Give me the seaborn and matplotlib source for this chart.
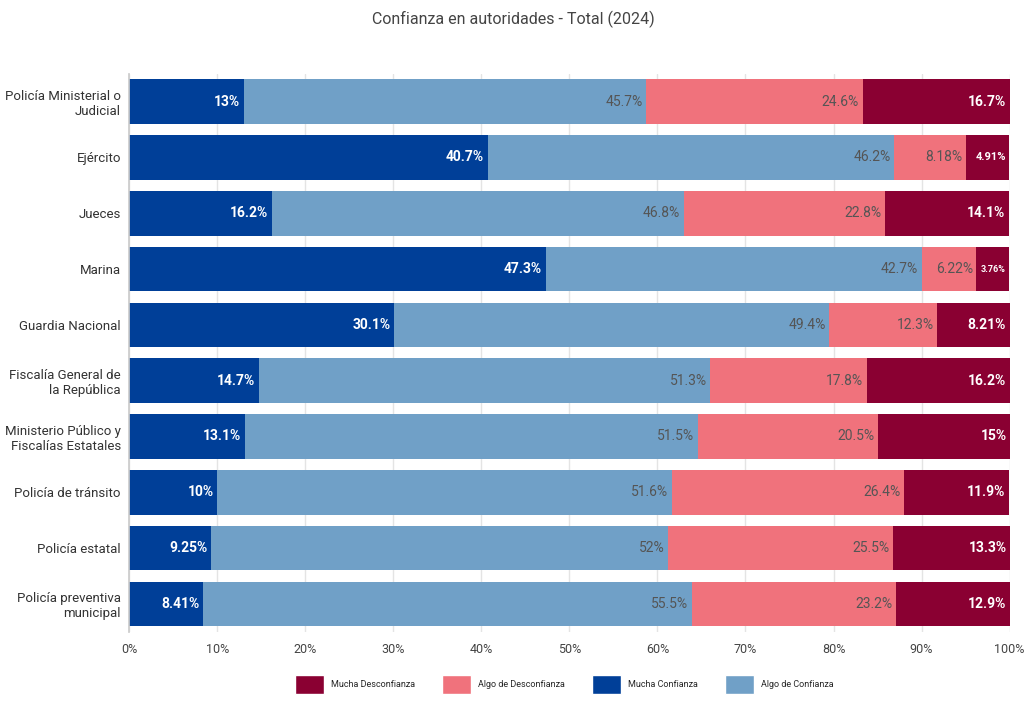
import numpy as np
import pandas as pd
import seaborn as sns
import matplotlib.pyplot as plt
from matplotlib.patches import Patch
from matplotlib.ticker import FuncFormatter

categorias = [
    'Policía Ministerial o\nJudicial',
    'Ejército',
    'Jueces',
    'Marina',
    'Guardia Nacional',
    'Fiscalía General de\nla República',
    'Ministerio Público y\nFiscalías Estatales',
    'Policía de tránsito',
    'Policía estatal',
    'Policía preventiva\nmunicipal',
]
mucha_confianza = [13, 40.7, 16.2, 47.3, 30.1, 14.7, 13.1, 10, 9.25, 8.41]
algo_confianza = [45.7, 46.2, 46.8, 42.7, 49.4, 51.3, 51.5, 51.6, 52, 55.5]
algo_desconfianza = [24.6, 8.18, 22.8, 6.22, 12.3, 17.8, 20.5, 26.4, 25.5, 23.2]
mucha_desconfianza = [16.7, 4.91, 14.1, 3.76, 8.21, 16.2, 15, 11.9, 13.3, 12.9]

series = ['Mucha Confianza', 'Algo de Confianza', 'Algo de Desconfianza', 'Mucha Desconfianza']
colores = {'Mucha Confianza': '#003f98', 'Algo de Confianza': '#70a0c7',
           'Algo de Desconfianza': '#f0727c', 'Mucha Desconfianza': '#8a0032'}
texto = {'Mucha Confianza': 'white', 'Algo de Confianza': '#555555',
         'Algo de Desconfianza': '#555555', 'Mucha Desconfianza': 'white'}

df = pd.DataFrame({'cat': categorias,
                   'Mucha Confianza': mucha_confianza,
                   'Algo de Confianza': algo_confianza,
                   'Algo de Desconfianza': algo_desconfianza,
                   'Mucha Desconfianza': mucha_desconfianza})
acum = df[series].cumsum(axis=1)

sns.set_theme(style='white')
plt.rcParams['font.family'] = ['Roboto', 'DejaVu Sans']

fig, ax = plt.subplots(figsize=(10.26, 7.02), dpi=100)
fig.subplots_adjust(left=0.126, right=0.984, top=0.895, bottom=0.1)

# stacked: draw the cumulative totals from the widest down
for s in reversed(series):
    sns.barplot(x=acum[s], y=df['cat'], color=colores[s], orient='h',
                width=0.8, ax=ax, saturation=1, edgecolor='none')

for i in range(len(df)):
    for s in series:
        v = df.loc[i, s]
        fin = acum.loc[i, s]
        fs = 10
        if v < 4:
            fs = 6.5
        elif v < 5.5:
            fs = 8
        lbl = f'{v:g}%'
        ax.text(fin - 0.4, i, lbl, ha='right', va='center', color=texto[s],
                fontsize=fs, fontweight='bold' if texto[s] == 'white' else 'normal')

ax.set_xlim(0, 100)
ax.set_xticks(np.arange(0, 101, 10))
ax.xaxis.set_major_formatter(FuncFormatter(lambda x, p: f'{x:.0f}%'))
ax.tick_params(axis='x', labelsize=9, colors='#444444', pad=2)
ax.tick_params(axis='y', labelsize=9.5, colors='#333333', length=0, pad=6)
for lab in ax.get_yticklabels():
    lab.set_horizontalalignment('right')
ax.grid(axis='x', color='#e4e4e4', linewidth=1)
ax.set_axisbelow(True)
ax.set_xlabel('')
ax.set_ylabel('')
for sp in ['top', 'right', 'bottom']:
    ax.spines[sp].set_visible(False)
ax.spines['left'].set_color('#cccccc')

fig.suptitle('Confianza en autoridades - Total (2024)', fontsize=11.5, color='#444444', y=0.985)

orden = ['Mucha Desconfianza', 'Algo de Desconfianza', 'Mucha Confianza', 'Algo de Confianza']
handles = [Patch(facecolor=colores[s], label=s) for s in orden]
fig.legend(handles=handles, loc='lower center', ncol=4, frameon=False, fontsize=6.5,
           bbox_to_anchor=(0.55, 0.0), handlelength=3.2, handleheight=2.8, columnspacing=3)

fig.savefig('out.png', dpi=100)
